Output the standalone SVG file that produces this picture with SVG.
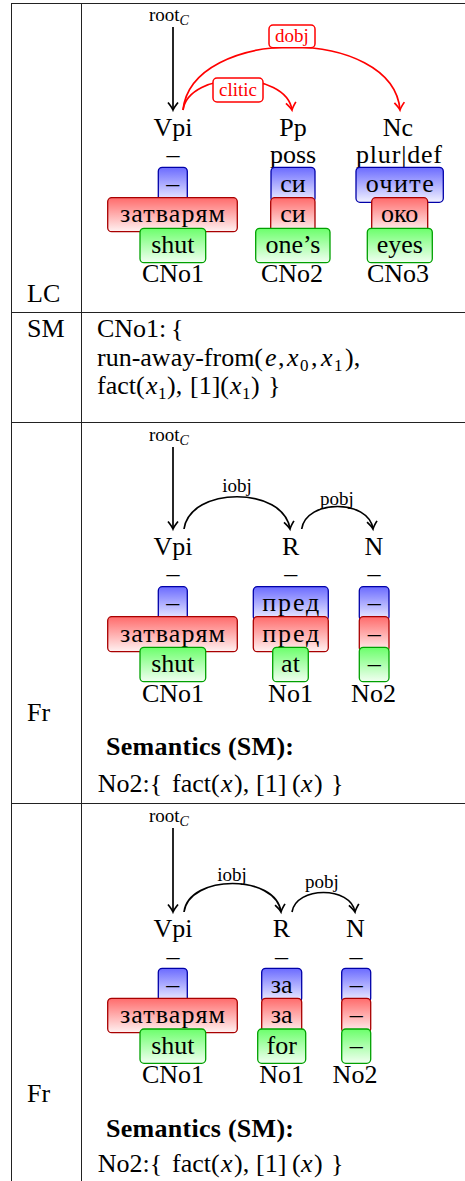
<svg xmlns="http://www.w3.org/2000/svg" width="465" height="1181" viewBox="0 0 465 1181" font-family="'Liberation Serif', 'Times New Roman', Times, serif">
<style>
text{font-family:'Liberation Serif','Times New Roman',Times,serif;fill:#000}
.m{font-size:26px}
.c{text-anchor:middle}
.s{font-size:19px}
.b{font-weight:bold}
.i{font-style:italic}
.sub{font-size:17px}
.red{fill:#f00}
.bb{fill:url(#gb);stroke:#0000a8;stroke-width:1.3}
.rb{fill:url(#gr);stroke:#a80000;stroke-width:1.3}
.gb{fill:url(#gg);stroke:#00a000;stroke-width:1.3}
.tl{stroke:#222;stroke-width:1;fill:none}
.ak{stroke:#000;stroke-width:1.7;fill:none}
.ar{stroke:#f00;stroke-width:1.7;fill:none}
</style>
<defs>
<linearGradient id="gb" x1="0" y1="0" x2="0" y2="1"><stop offset="0" stop-color="#6b6bff"/><stop offset="1" stop-color="#f2f2ff"/></linearGradient>
<linearGradient id="gr" x1="0" y1="0" x2="0" y2="1"><stop offset="0" stop-color="#ff6b6b"/><stop offset="1" stop-color="#fff2f2"/></linearGradient>
<linearGradient id="gg" x1="0" y1="0" x2="0" y2="1"><stop offset="0" stop-color="#6bff6b"/><stop offset="1" stop-color="#f2fff2"/></linearGradient>
<marker id="mk" markerUnits="userSpaceOnUse" markerWidth="14" markerHeight="14" viewBox="-10 -7 12 14" refX="0" refY="0" orient="auto"><path d="M-7.5,-5 Q-2.5,-1 0,0 Q-2.5,1 -7.5,5" fill="none" stroke="#000" stroke-width="1.7"/></marker>
<marker id="mr" markerUnits="userSpaceOnUse" markerWidth="14" markerHeight="14" viewBox="-10 -7 12 14" refX="0" refY="0" orient="auto"><path d="M-7.5,-5 Q-2.5,-1 0,0 Q-2.5,1 -7.5,5" fill="none" stroke="#f00" stroke-width="1.7"/></marker>
</defs>
<rect width="465" height="1181" fill="#fff"/>
<g id="table">
<path class="tl" d="M11,3.5H465M11.5,3V1181M81.5,3V1181M11,312.5H465M11,422.5H465M11,803.5H465"/>
<text class="m" x="27" y="301.7">LC</text>
<text class="m" x="27" y="337">SM</text>
<text class="m" x="27" y="720.7">Fr</text>
<text class="m" x="27" y="1101.7">Fr</text>
</g>
<g id="connectors">
<path class="ak" d="M173,27V110" marker-end="url(#mk)"/>
<path class="ar" d="M183,110 C192,26 393,26 400,110" marker-end="url(#mr)"/>
<path class="ar" d="M183,110 C189,70 286,70 292,110" marker-end="url(#mr)"/>
<path class="ak" d="M173,447V529" marker-end="url(#mk)"/>
<path class="ak" d="M184,529 C190,486 284,486 290,529" marker-end="url(#mk)"/>
<path class="ak" d="M301.7,529 C306,499 369,499 373,529" marker-end="url(#mk)"/>
<path class="ak" d="M173,828V912" marker-end="url(#mk)"/>
<path class="ak" d="M184,912 C189,874 276,874 281,912" marker-end="url(#mk)"/>
<path class="ak" d="M292,912 C296,886 351,886 355,912" marker-end="url(#mk)"/>
</g>
<g id="labels">
<text class="s" x="149" y="21">root<tspan class="i" font-size="14" dy="4">C</tspan></text>
<rect x="269" y="25" width="46" height="22.7" rx="4" fill="#fff" stroke="#f00" stroke-width="1.5"/>
<text class="s c red" x="292" y="42">dobj</text>
<rect x="213" y="78" width="50" height="24" rx="4" fill="#fff" stroke="#f00" stroke-width="1.5"/>
<text class="s c red" x="238" y="96">clitic</text>
<text class="s" x="149" y="441">root<tspan class="i" font-size="14" dy="4">C</tspan></text>
<text class="s c" x="237" y="492">iobj</text>
<text class="s c" x="337" y="505">pobj</text>
<text class="s" x="149" y="822">root<tspan class="i" font-size="14" dy="4">C</tspan></text>
<text class="s c" x="232" y="881">iobj</text>
<text class="s c" x="322" y="888">pobj</text>
</g>
<g id="lc-vpi">
<text class="m c" x="173" y="136">Vpi</text>
<text class="m c" x="173" y="163">–</text>
<rect class="bb" x="158.3" y="167.3" width="29" height="35" rx="4"/>
<text class="m c" x="172.8" y="191.5">–</text>
<rect class="rb" x="107.7" y="197.7" width="129.6" height="34" rx="4"/>
<text class="m c" x="172.5" y="222" textLength="105" lengthAdjust="spacing">затварям</text>
<rect class="gb" x="140" y="228.3" width="65.7" height="34.4" rx="4"/>
<text class="m c" x="172.8" y="252.5">shut</text>
<text class="m c" x="173" y="281.7">CNo1</text>
</g>
<g id="lc-pp">
<text class="m c" x="293" y="136">Pp</text>
<text class="m c" x="293" y="163">poss</text>
<rect class="bb" x="271" y="167.3" width="44" height="35" rx="4"/>
<text class="m c" x="293" y="191.5">си</text>
<rect class="rb" x="270.7" y="197.7" width="44.3" height="34" rx="4"/>
<text class="m c" x="293" y="222">си</text>
<rect class="gb" x="255.7" y="228.3" width="74.3" height="34.4" rx="4"/>
<text class="m c" x="293" y="252.5">one’s</text>
<text class="m c" x="292" y="281.7">CNo2</text>
</g>
<g id="lc-nc">
<text class="m c" x="398" y="136">Nc</text>
<text class="m c" x="399" y="163" textLength="86" lengthAdjust="spacing">plur|def</text>
<rect class="bb" x="356" y="167.3" width="87.3" height="35" rx="4"/>
<text class="m c" x="399.7" y="191.5" textLength="68" lengthAdjust="spacing">очите</text>
<rect class="rb" x="371.7" y="197.7" width="56" height="34" rx="4"/>
<text class="m c" x="399.7" y="222">око</text>
<rect class="gb" x="367.3" y="228.3" width="65" height="34.4" rx="4"/>
<text class="m c" x="399.8" y="252.5">eyes</text>
<text class="m c" x="398" y="281.7">CNo3</text>
</g>
<g id="sm">
<text class="m" x="97" y="337">CNo1:<tspan x="171">{</tspan></text>
<text class="m" x="97" y="366">run-away-from(<tspan class="i" x="265">e</tspan><tspan x="278">,</tspan><tspan class="i" x="287">x</tspan><tspan class="sub" x="300" dy="5">0</tspan><tspan x="311" dy="-5">,</tspan><tspan class="i" x="321">x</tspan><tspan class="sub" x="334" dy="5">1</tspan><tspan x="345" dy="-5">),</tspan></text>
<text class="m" x="97" y="394">fact(<tspan class="i" x="146">x</tspan><tspan class="sub" x="158" dy="5">1</tspan><tspan x="167" dy="-5">),</tspan><tspan x="190">[1](</tspan><tspan class="i" x="230">x</tspan><tspan class="sub" x="242" dy="5">1</tspan><tspan x="251" dy="-5">)</tspan><tspan x="268">}</tspan></text>
</g>
<g id="fr1-vpi">
<text class="m c" x="173" y="555">Vpi</text>
<text class="m c" x="173" y="582">–</text>
<rect class="bb" x="158.3" y="586.7" width="29" height="34" rx="4"/>
<text class="m c" x="172.8" y="611">–</text>
<rect class="rb" x="107.7" y="616.7" width="129.6" height="35" rx="4"/>
<text class="m c" x="172.5" y="641.5" textLength="105" lengthAdjust="spacing">затварям</text>
<rect class="gb" x="140" y="647.3" width="65.7" height="34.4" rx="4"/>
<text class="m c" x="172.8" y="671.5">shut</text>
<text class="m c" x="173" y="701.7">CNo1</text>
</g>
<g id="fr1-r">
<text class="m c" x="290.7" y="555">R</text>
<text class="m c" x="290.7" y="582">–</text>
<rect class="bb" x="253.3" y="586.7" width="75" height="34" rx="4"/>
<text class="m c" x="290.8" y="611" textLength="57" lengthAdjust="spacing">пред</text>
<rect class="rb" x="253.3" y="616.7" width="75" height="35" rx="4"/>
<text class="m c" x="290.8" y="641.5" textLength="57" lengthAdjust="spacing">пред</text>
<rect class="gb" x="272.7" y="647.3" width="35.6" height="34.4" rx="4"/>
<text class="m c" x="290.5" y="671.5">at</text>
<text class="m c" x="290.5" y="701.7">No1</text>
</g>
<g id="fr1-n">
<text class="m c" x="373.8" y="555">N</text>
<text class="m c" x="374" y="582">–</text>
<rect class="bb" x="359.3" y="586.7" width="29.7" height="34" rx="4"/>
<text class="m c" x="374.2" y="611">–</text>
<rect class="rb" x="359.3" y="616.7" width="29.7" height="35" rx="4"/>
<text class="m c" x="374.2" y="641.5">–</text>
<rect class="gb" x="359.3" y="647.3" width="29.7" height="34.4" rx="4"/>
<text class="m c" x="374.2" y="671.5">–</text>
<text class="m c" x="373.5" y="701.7">No2</text>
</g>
<g id="fr1-sm">
<text class="m b" x="106" y="755" textLength="188" lengthAdjust="spacing">Semantics (SM):</text>
<text class="m" x="97.7" y="791.7">No2:{<tspan x="172">fact(</tspan><tspan class="i" x="221">x</tspan><tspan x="234">),</tspan><tspan x="256">[1]</tspan><tspan x="292">(</tspan><tspan class="i" x="301">x</tspan><tspan x="314">)</tspan><tspan x="331">}</tspan></text>
</g>
<g id="fr2-vpi">
<text class="m c" x="173" y="937.3">Vpi</text>
<text class="m c" x="173" y="964.5">–</text>
<rect class="bb" x="158.3" y="968.3" width="29" height="34" rx="4"/>
<text class="m c" x="172.8" y="992.5">–</text>
<rect class="rb" x="107.7" y="998.3" width="129.6" height="34.4" rx="4"/>
<text class="m c" x="172.5" y="1023" textLength="105" lengthAdjust="spacing">затварям</text>
<rect class="gb" x="140" y="1029" width="65.7" height="34.3" rx="4"/>
<text class="m c" x="172.8" y="1053.5">shut</text>
<text class="m c" x="173" y="1083">CNo1</text>
</g>
<g id="fr2-r">
<text class="m c" x="281.5" y="937.3">R</text>
<text class="m c" x="281.5" y="964.5">–</text>
<rect class="bb" x="261.7" y="968.3" width="40" height="34" rx="4"/>
<text class="m c" x="281.7" y="992.5">за</text>
<rect class="rb" x="261.7" y="998.3" width="40" height="34.4" rx="4"/>
<text class="m c" x="281.7" y="1023">за</text>
<rect class="gb" x="257.7" y="1029" width="48" height="34.3" rx="4"/>
<text class="m c" x="281.7" y="1053.5">for</text>
<text class="m c" x="281.7" y="1083">No1</text>
</g>
<g id="fr2-n">
<text class="m c" x="355.5" y="937.3">N</text>
<text class="m c" x="356" y="964.5">–</text>
<rect class="bb" x="341.7" y="968.3" width="29" height="34" rx="4"/>
<text class="m c" x="356.2" y="992.5">–</text>
<rect class="rb" x="341.7" y="998.3" width="29" height="34.4" rx="4"/>
<text class="m c" x="356.2" y="1023">–</text>
<rect class="gb" x="341.7" y="1029" width="29" height="34.3" rx="4"/>
<text class="m c" x="356.2" y="1053.5">–</text>
<text class="m c" x="355" y="1083">No2</text>
</g>
<g id="fr2-sm">
<text class="m b" x="106" y="1136.7" textLength="188" lengthAdjust="spacing">Semantics (SM):</text>
<text class="m" x="97.7" y="1171.7">No2:{<tspan x="172">fact(</tspan><tspan class="i" x="221">x</tspan><tspan x="234">),</tspan><tspan x="256">[1]</tspan><tspan x="292">(</tspan><tspan class="i" x="301">x</tspan><tspan x="314">)</tspan><tspan x="331">}</tspan></text>
</g>
</svg>
